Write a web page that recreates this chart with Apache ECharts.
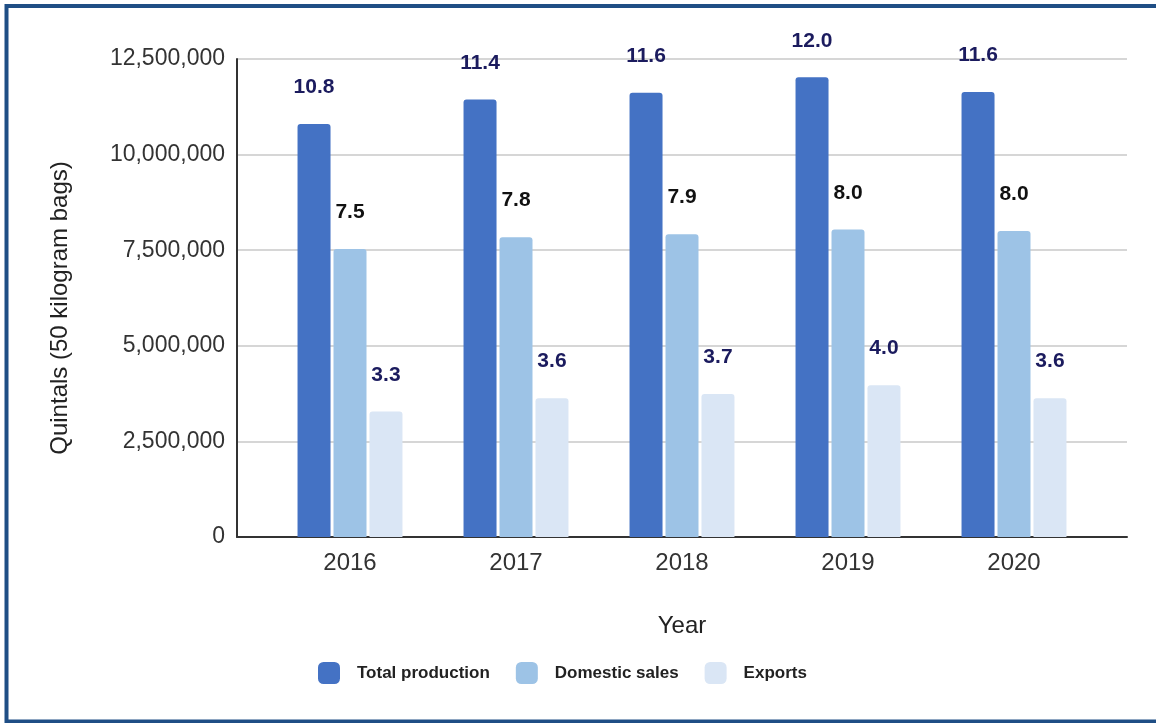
<!DOCTYPE html>
<html>
<head>
<meta charset="utf-8">
<script src="https://cdn.jsdelivr.net/npm/echarts@6/dist/echarts.min.js"></script>
<style>
  html, body { margin: 0; padding: 0; background: #ffffff; }
  #chart { width: 1156px; height: 723px; }
</style>
</head>
<body>
<div id="chart"></div>
<script>
// Coffee output by year, in quintals
const years = ['2016', '2017', '2018', '2019', '2020'];
const totalProduction = [10800000, 11440000, 11620000, 12020000, 11640000];
const domesticSales = [7530000, 7840000, 7920000, 8040000, 8000000];
const exportsQty = [3280000, 3630000, 3740000, 3970000, 3630000];
const seriesNames = ['Total production', 'Domestic sales', 'Exports'];

const FONT = '"Liberation Sans", Arial, sans-serif';
const millions = p => (p.value / 1e6).toFixed(1);
const thousands = v => v.toLocaleString('en-US');

function barSeries(name, data, color, labelColor) {
  return {
    name: name,
    type: 'bar',
    xAxisIndex: 1,
    yAxisIndex: 1,
    data: data,
    barWidth: 33,
    barGap: '9%',
    itemStyle: { color: color, borderRadius: [3, 3, 0, 0] },
    label: {
      show: true,
      position: 'top',
      distance: 26,
      formatter: millions,
      fontFamily: FONT,
      fontSize: 21,
      fontWeight: 'bold',
      color: labelColor
    }
  };
}

const chart = echarts.init(document.getElementById('chart'));
chart.setOption({
  backgroundColor: '#ffffff',
  animation: false,
  grid: [
    { left: 237, right: 29, top: 59, bottom: 186 },
    { left: 267, right: 59, top: 59, bottom: 186 }
  ],
  legend: {
    data: seriesNames,
    left: 313,
    top: 657,
    itemWidth: 22,
    itemHeight: 22,
    itemGap: 26,
    icon: 'roundRect',
    textStyle: {
      fontFamily: FONT,
      fontSize: 17,
      fontWeight: 'bold',
      color: '#222222',
      padding: [0, 0, 0, 12]
    }
  },
  xAxis: [
    {
      gridIndex: 0,
      type: 'category',
      data: years,
      axisLine: { show: true, lineStyle: { color: '#333333', width: 2 } },
      axisTick: { show: false },
      axisLabel: { show: false },
      name: 'Year',
      nameLocation: 'middle',
      nameGap: 77,
      nameTextStyle: { fontFamily: FONT, fontSize: 24, color: '#222222' }
    },
    {
      gridIndex: 1,
      type: 'category',
      data: years,
      axisLine: { show: false },
      axisTick: { show: false },
      axisLabel: { fontFamily: FONT, fontSize: 24, color: '#333333', margin: 14 }
    }
  ],
  yAxis: [
    {
      gridIndex: 0,
      type: 'value',
      min: 0,
      max: 12500000,
      interval: 2500000,
      axisLine: { show: true, lineStyle: { color: '#333333', width: 2 } },
      axisTick: { show: false },
      splitLine: { show: true, lineStyle: { color: '#d6d6d6', width: 2 } },
      axisLabel: {
        fontFamily: FONT,
        fontSize: 23,
        color: '#333333',
        margin: 12,
        formatter: thousands
      },
      name: 'Quintals (50 kilogram bags)',
      nameLocation: 'middle',
      nameGap: 165,
      nameTextStyle: {
        fontFamily: FONT,
        fontSize: 24,
        color: '#222222',
        padding: [0, 20, 0, 0]
      }
    },
    {
      gridIndex: 1,
      type: 'value',
      min: 0,
      max: 12500000,
      interval: 2500000,
      axisLine: { show: false },
      axisTick: { show: false },
      axisLabel: { show: false },
      splitLine: { show: false }
    }
  ],
  series: [
    barSeries(seriesNames[0], totalProduction, '#4472c4', '#1b1b5e'),
    barSeries(seriesNames[1], domesticSales, '#9dc3e6', '#111111'),
    barSeries(seriesNames[2], exportsQty, '#dae6f5', '#1b1b5e')
  ],
  graphic: [
    {
      type: 'rect',
      shape: { x: 6.5, y: 6, width: 1160, height: 715.5 },
      style: { fill: null, stroke: '#1f4e85', lineWidth: 4 },
      silent: true
    }
  ]
});
</script>
</body>
</html>
